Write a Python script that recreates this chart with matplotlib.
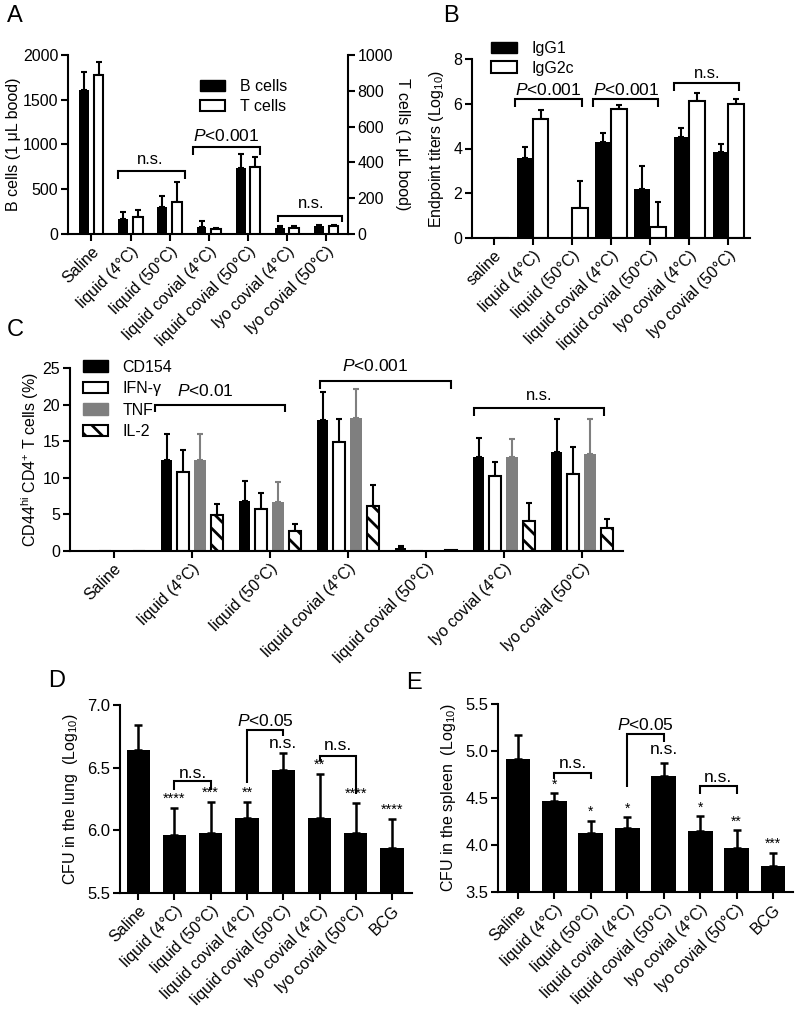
import matplotlib
matplotlib.use('Agg')
import matplotlib.pyplot as plt
import numpy as np
from matplotlib.patches import Patch
from matplotlib.ticker import FormatStrFormatter

plt.rcParams['font.family'] = ['Liberation Sans', 'DejaVu Sans']
plt.rcParams['mathtext.fontset'] = 'custom'
plt.rcParams['mathtext.rm'] = 'Liberation Sans'
plt.rcParams['mathtext.it'] = 'Liberation Sans:italic'
plt.rcParams['mathtext.bf'] = 'Liberation Sans:bold'
plt.rcParams['hatch.linewidth'] = 2.0
plt.rcParams['axes.linewidth'] = 1.5

# ---------------- data ----------------
groups_a = ["Saline", "liquid (4°C)", "liquid (50°C)", "liquid covial (4°C)",
            "liquid covial (50°C)", "lyo covial (4°C)", "lyo covial (50°C)"]
groups_b = ["saline", "liquid (4°C)", "liquid (50°C)", "liquid covial (4°C)",
            "liquid covial (50°C)", "lyo covial (4°C)", "lyo covial (50°C)"]
groups_de = groups_a + ["BCG"]

a_bcells = [1610, 171, 301, 74, 743, 63, 85]
a_bcells_err = [197, 74, 126, 75, 153, 22, 15]
a_tcells = [888, 95, 178, 28, 377, 33, 46]
a_tcells_err = [75, 37, 110, 5, 52, 10, 6]

b_igg1 = [0, 3.56, 0, 4.30, 2.21, 4.50, 3.86]
b_igg1_err = [0, 0.52, 0, 0.41, 1.00, 0.42, 0.34]
b_igg2c = [0, 5.32, 1.35, 5.75, 0.51, 6.13, 5.99]
b_igg2c_err = [0, 0.40, 1.19, 0.18, 1.12, 0.36, 0.23]

c_cd154 = [0.1, 12.5, 6.85, 17.9, 0.35, 12.9, 13.5]
c_cd154_err = [0, 3.5, 2.65, 3.8, 0.35, 2.5, 4.6]
c_ifng = [0, 10.8, 5.8, 14.9, 0, 10.2, 10.5]
c_ifng_err = [0, 2.95, 2.06, 3.2, 0, 2.0, 3.7]
c_tnf = [0, 12.4, 6.7, 18.2, 0.08, 12.8, 13.2]
c_tnf_err = [0, 3.6, 2.7, 3.9, 0, 2.5, 4.9]
c_il2 = [0, 4.9, 2.7, 6.2, 0.15, 4.1, 3.2]
c_il2_err = [0, 1.55, 1.05, 2.8, 0, 2.4, 1.2]

d_lung = [6.64, 5.96, 5.98, 6.10, 6.48, 6.10, 5.98, 5.86]
d_lung_err = [0.20, 0.22, 0.25, 0.13, 0.14, 0.35, 0.24, 0.23]
d_stars = ["", "****", "***", "**", "", "**", "****", "****"]

e_spleen = [4.92, 4.47, 4.125, 4.18, 4.73, 4.15, 3.97, 3.78]
e_spleen_err = [0.25, 0.08, 0.135, 0.12, 0.14, 0.16, 0.19, 0.14]
e_stars = ["", "*", "*", "*", "", "*", "**", "***"]

# ---------------- helpers ----------------
def upper_err(ax, x, y, e, color='black', capsize=2.2, lw=1.5):
    x = np.asarray(x, float); y = np.asarray(y, float); e = np.asarray(e, float)
    m = e > 0
    if m.any():
        ax.errorbar(x[m], y[m], yerr=[np.zeros(m.sum()), e[m]], fmt='none',
                    ecolor=color, capsize=capsize, elinewidth=lw, capthick=lw, zorder=1)

def bracket(ax, x1, x2, y, y1end, y2end, lw=1.5):
    ax.plot([x1, x1, x2, x2], [y1end, y, y, y2end], color='black', lw=lw,
            solid_capstyle='butt', solid_joinstyle='miter', clip_on=False, zorder=5)

def style(ax, ysize=11.5):
    ax.spines['top'].set_visible(False)
    ax.spines['right'].set_visible(False)
    ax.tick_params(direction='out', length=5, width=1.5, labelsize=ysize, pad=2)

def xlabels(ax, labels, size=11.5):
    ax.set_xticks(np.arange(len(labels)))
    ax.set_xticklabels(labels, rotation=45, ha='right', rotation_mode='anchor', fontsize=size)

fig = plt.figure(figsize=(8, 10.09), dpi=100)
W, H = 800.0, 1009.0
def rect(l, r, t, b):
    return [l / W, 1 - b / H, (r - l) / W, (b - t) / H]

# ---------------- Panel A ----------------
axA = fig.add_axes(rect(68, 348, 55, 234))
axA2 = axA.twinx()
x = np.arange(len(groups_a))
axA.bar(x - 0.19, a_bcells, 0.25, color='black', zorder=2)
upper_err(axA, x - 0.19, a_bcells, a_bcells_err)
axA2.bar(x + 0.18, a_tcells, 0.25, facecolor='white', edgecolor='black', lw=1.5, zorder=2)
upper_err(axA2, x + 0.18, a_tcells, a_tcells_err)
axA.set_xlim(-0.6, 6.55)
axA.set_ylim(0, 2000)
axA2.set_ylim(0, 1000)
axA.set_yticks([0, 500, 1000, 1500, 2000])
axA2.set_yticks([0, 200, 400, 600, 800, 1000])
style(axA)
axA.spines['right'].set_visible(False)
for s in ['top', 'left', 'bottom']:
    axA2.spines[s].set_visible(False)
axA2.tick_params(direction='out', length=5, width=1.5, labelsize=11.5, pad=2)
xlabels(axA, groups_a)
axA.set_ylabel("B cells (1 μL bood)", fontsize=11.5, labelpad=1)
axA2.set_ylabel("T cells (1 μL bood)", fontsize=11.5, rotation=270, labelpad=12)
bracket(axA, 1 - 0.33, 2 + 0.38, 699, 617, 617)
axA.text(1.5, 830, "n.s.", ha='center', va='center', fontsize=12)
bracket(axA, 3 - 0.4, 4 + 0.3, 967, 885, 885)
axA.text(3.45, 1090, "$P$<0.001", ha='center', va='center', fontsize=12.5)
bracket(axA, 5 - 0.25, 6 + 0.4, 204, 130, 130)
axA.text(5.6, 346, "n.s.", ha='center', va='center', fontsize=12)
axA2.legend(handles=[Patch(facecolor='black', edgecolor='black'),
                     Patch(facecolor='white', edgecolor='black', lw=1.5)],
            labels=["B cells", "T cells"], loc='upper left', bbox_to_anchor=(0.47, 0.865),
            frameon=False, fontsize=11.5, handlelength=1.6, handleheight=0.75,
            borderpad=0, borderaxespad=0, labelspacing=0.3, handletextpad=0.9)

# ---------------- Panel B ----------------
axB = fig.add_axes(rect(472, 750, 59, 238))
x = np.arange(len(groups_b))
axB.bar(x - 0.2, b_igg1, 0.4, color='black', zorder=2)
upper_err(axB, x - 0.2, b_igg1, b_igg1_err)
axB.bar(x + 0.2, b_igg2c, 0.4, facecolor='white', edgecolor='black', lw=1.5, zorder=2)
upper_err(axB, x + 0.2, b_igg2c, b_igg2c_err)
axB.set_xlim(-0.55, 6.55)
axB.set_ylim(0, 8)
axB.set_yticks([0, 2, 4, 6, 8])
style(axB)
xlabels(axB, groups_b)
axB.set_ylabel("Endpoint titers (Log$_{10}$)", fontsize=11.5, labelpad=5)
bracket(axB, 1 - 0.45, 2 + 0.25, 6.2, 5.85, 5.85)
axB.text(1.4, 6.6, "$P$<0.001", ha='center', va='center', fontsize=12.5)
bracket(axB, 3 - 0.45, 4 + 0.2, 6.2, 5.85, 5.85)
axB.text(3.4, 6.6, "$P$<0.001", ha='center', va='center', fontsize=12.5)
bracket(axB, 5 - 0.4, 6 + 0.28, 6.92, 6.55, 6.55)
axB.text(5.45, 7.37, "n.s.", ha='center', va='center', fontsize=12)
axB.legend(handles=[Patch(facecolor='black', edgecolor='black'),
                    Patch(facecolor='white', edgecolor='black', lw=1.5)],
           labels=["IgG1", "IgG2c"], loc='upper left', bbox_to_anchor=(0.07, 1.10),
           frameon=False, fontsize=11.5, handlelength=1.6, handleheight=0.75,
           borderpad=0, borderaxespad=0, labelspacing=0.3, handletextpad=0.9)

# ---------------- Panel C ----------------
axC = fig.add_axes(rect(70, 623, 368, 551))
x = np.arange(len(groups_a))
step, bw = 0.215, 0.15
axC.bar(x - 1.5 * step, c_cd154, bw, color='black', zorder=2)
upper_err(axC, x - 1.5 * step, c_cd154, c_cd154_err, capsize=2)
axC.bar(x - 0.5 * step, c_ifng, bw, facecolor='white', edgecolor='black', lw=1.5, zorder=2)
upper_err(axC, x - 0.5 * step, c_ifng, c_ifng_err, capsize=2)
axC.bar(x + 0.5 * step, c_tnf, bw, color='#7f7f7f', zorder=2)
upper_err(axC, x + 0.5 * step, c_tnf, c_tnf_err, color='#7f7f7f', capsize=2)
axC.bar(x + 1.5 * step, c_il2, bw, facecolor='white', edgecolor='black', lw=1.5,
        hatch='\\\\', zorder=2)
upper_err(axC, x + 1.5 * step, c_il2, c_il2_err, capsize=2)
axC.set_xlim(-0.56, 6.53)
axC.set_ylim(0, 25)
axC.set_yticks([0, 5, 10, 15, 20, 25])
style(axC)
xlabels(axC, groups_a)
axC.set_ylabel("CD44$^{\\mathrm{hi}}$ CD4$^{+}$ T cells (%)", fontsize=11.5, labelpad=1)
bracket(axC, 1 - 0.47, 2 + 0.2, 20.0, 19.0, 19.0)
axC.text(1.17, 21.8, "$P$<0.01", ha='center', va='center', fontsize=12.5)
bracket(axC, 3 - 0.36, 4 + 0.32, 23.2, 22.1, 22.1)
axC.text(3.35, 25.3, "$P$<0.001", ha='center', va='center', fontsize=12.5)
bracket(axC, 5 - 0.38, 6 + 0.29, 19.5, 18.5, 18.5)
axC.text(5.45, 21.3, "n.s.", ha='center', va='center', fontsize=12)
axC.legend(handles=[Patch(facecolor='black', edgecolor='black'),
                    Patch(facecolor='white', edgecolor='black', lw=1.5),
                    Patch(facecolor='#7f7f7f', edgecolor='#7f7f7f'),
                    Patch(facecolor='white', edgecolor='black', lw=1.5, hatch='\\\\')],
           labels=["CD154", "IFN-γ", "TNF", "IL-2"], loc='upper left',
           bbox_to_anchor=(0.023, 1.045), frameon=False, fontsize=11.5,
           handlelength=1.6, handleheight=0.75, borderpad=0, borderaxespad=0,
           labelspacing=0.4, handletextpad=0.9)

# ---------------- Panel D ----------------
axD = fig.add_axes(rect(120, 412, 705, 893))
x = np.arange(len(groups_de))
axD.bar(x, d_lung, 0.64, bottom=0, color='black', zorder=2)
upper_err(axD, x, d_lung, d_lung_err, capsize=3.2, lw=1.8)
axD.set_xlim(-0.5, 7.55)
axD.set_ylim(5.5, 7.0)
axD.set_yticks([5.5, 6.0, 6.5, 7.0])
axD.yaxis.set_major_formatter(FormatStrFormatter('%.1f'))
style(axD, 12)
xlabels(axD, groups_de, 11.5)
axD.set_ylabel("CFU in the lung  (Log$_{10}$)", fontsize=11.5, labelpad=5)
for i, s in enumerate(d_stars):
    if s:
        axD.text(i, d_lung[i] + d_lung_err[i] + 0.07, s, ha='center', va='center', fontsize=10.5)
bracket(axD, 1, 2, 6.39, 6.32, 6.32)
axD.text(1.5, 6.455, "n.s.", ha='center', va='center', fontsize=12.5)
bracket(axD, 3, 4, 6.80, 6.375, 6.75)
axD.text(3.5, 6.875, "$P$<0.05", ha='center', va='center', fontsize=12.5)
axD.text(4, 6.69, "n.s.", ha='center', va='center', fontsize=12.5)
bracket(axD, 5, 6, 6.59, 6.55, 6.29)
axD.text(5.5, 6.68, "n.s.", ha='center', va='center', fontsize=12.5)

# ---------------- Panel E ----------------
axE = fig.add_axes(rect(498, 793, 704, 892))
axE.bar(x, e_spleen, 0.68, color='black', zorder=2)
upper_err(axE, x, e_spleen, e_spleen_err, capsize=3.2, lw=1.8)
axE.set_xlim(-0.55, 7.55)
axE.set_ylim(3.5, 5.5)
axE.set_yticks([3.5, 4.0, 4.5, 5.0, 5.5])
axE.yaxis.set_major_formatter(FormatStrFormatter('%.1f'))
style(axE, 12)
xlabels(axE, groups_de, 11.5)
axE.set_ylabel("CFU in the spleen  (Log$_{10}$)", fontsize=11.5, labelpad=5)
for i, s in enumerate(e_stars):
    if s:
        axE.text(i, e_spleen[i] + e_spleen_err[i] + 0.09, s, ha='center', va='center', fontsize=10)
bracket(axE, 1, 2, 4.77, 4.70, 4.70)
axE.text(1.5, 4.87, "n.s.", ha='center', va='center', fontsize=12.5)
bracket(axE, 3, 4, 5.18, 4.62, 5.10)
axE.text(3.5, 5.28, "$P$<0.05", ha='center', va='center', fontsize=12.5)
axE.text(4, 5.02, "n.s.", ha='center', va='center', fontsize=12.5)
bracket(axE, 5, 6, 4.63, 4.54, 4.54)
axE.text(5.5, 4.72, "n.s.", ha='center', va='center', fontsize=12.5)

# ---------------- panel letters ----------------
for lab, px, py in [("A", 15, 16), ("B", 451, 16), ("C", 15, 330), ("D", 57, 681), ("E", 414, 683)]:
    fig.text(px / W, 1 - py / H, lab, fontsize=17, ha='center', va='center')

fig.savefig('out.png', dpi=100)
